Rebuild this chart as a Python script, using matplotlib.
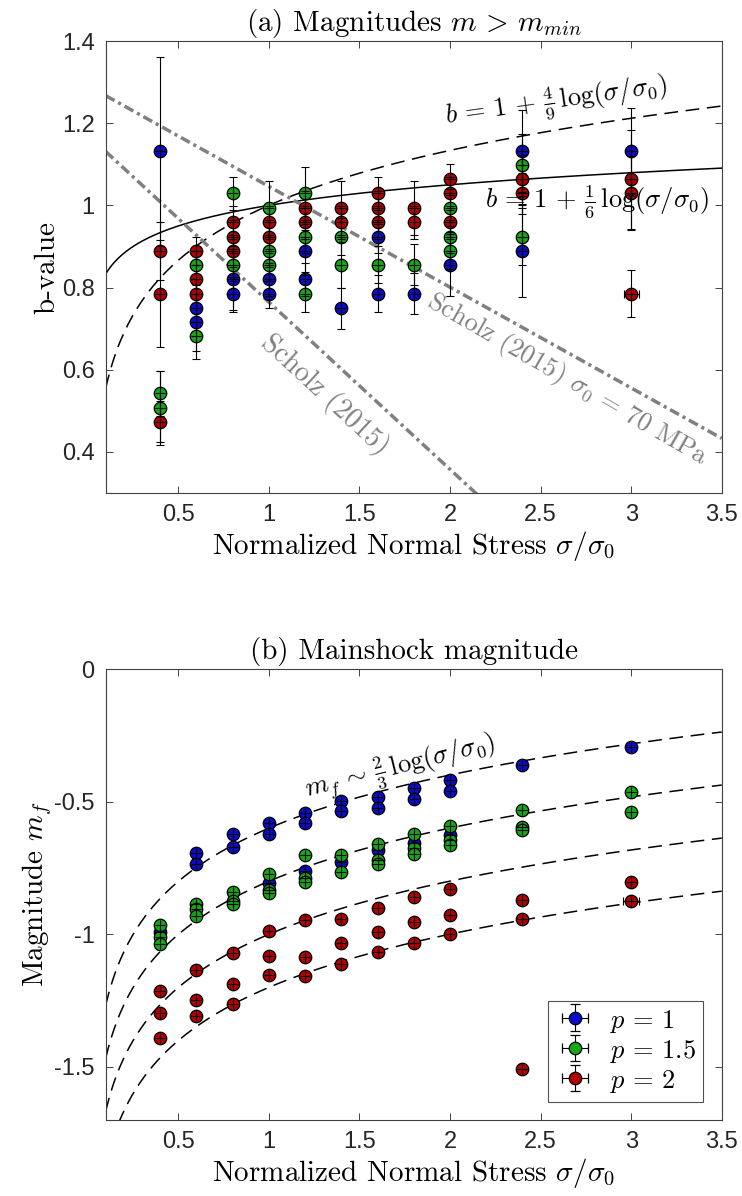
import numpy as np
import matplotlib
matplotlib.use("Agg")
import matplotlib.pyplot as plt
from matplotlib.ticker import FuncFormatter

plt.rcParams["font.family"] = "Liberation Sans"
plt.rcParams["mathtext.fontset"] = "cm"
plt.rcParams["axes.unicode_minus"] = False

# ---- panel (a): b-value vs normalized stress
sig_a_p1 = [0.4, 0.6, 0.6, 0.8, 0.8, 1.0, 1.0, 1.2, 1.2, 1.4, 1.6, 1.6, 1.8, 2.0, 2.4, 2.4, 3.0]
b_p1 = [1.132, 0.750, 0.716, 0.820, 0.785, 0.820, 0.785, 0.889, 0.820, 0.750, 0.924, 0.785,
        0.785, 0.855, 1.132, 0.889, 1.132]
berr_p1 = [0.23, 0.035, 0.09, 0.08, 0.04, 0.04, 0.035, 0.05, 0.04, 0.05, 0.04, 0.045,
           0.05, 0.075, 0.10, 0.113, 0.105]
sigerr_a_p1 = [0.028] * 17

sig_a_p15 = [0.4, 0.4, 0.6, 0.6, 0.8, 0.8, 1.0, 1.0, 1.0, 1.2, 1.2, 1.2, 1.4, 1.4, 1.6, 1.8,
             2.0, 2.0, 2.0, 2.4, 2.4]
b_p15 = [0.543, 0.508, 0.855, 0.681, 1.029, 0.855, 0.994, 0.889, 0.855, 1.029, 0.924, 0.785,
         0.924, 0.855, 0.855, 0.855, 0.994, 0.924, 0.889, 1.098, 0.924]
berr_p15 = [0.055, 0.09, 0.035, 0.035, 0.04, 0.04, 0.065, 0.04, 0.04, 0.065, 0.04, 0.045,
            0.045, 0.055, 0.045, 0.05, 0.045, 0.04, 0.045, 0.075, 0.07]
sigerr_a_p15 = [0.028] * 21

sig_a_p2 = [0.4, 0.4, 0.4, 0.6, 0.6, 0.6, 0.8, 0.8, 0.8, 1.0, 1.0, 1.2, 1.2, 1.4, 1.4,
            1.6, 1.6, 1.6, 1.8, 1.8, 2.0, 2.0, 2.0, 2.4, 2.4, 3.0, 3.0, 3.0]
b_p2 = [0.889, 0.785, 0.473, 0.889, 0.820, 0.785, 0.959, 0.924, 0.889, 0.959, 0.924, 0.994,
        0.959, 0.994, 0.959, 1.029, 0.994, 0.959, 0.994, 0.959, 1.063, 1.029, 0.959, 1.063,
        1.029, 1.063, 1.029, 0.785]
berr_p2 = [0.07, 0.13, 0.05, 0.035, 0.035, 0.035, 0.04, 0.04, 0.04, 0.04, 0.04, 0.04,
           0.04, 0.066, 0.04, 0.04, 0.04, 0.04, 0.066, 0.04, 0.037, 0.04, 0.04, 0.06,
           0.05, 0.12, 0.09, 0.057]
sigerr_a_p2 = [0.028] * 27 + [0.042]

# Scholz (2015) linear trends, end points
scholz_sig = [0.1, 3.5]
scholz_b = [1.131, -0.253]
scholz70_b = [1.267, 0.433]

# ---- panel (b): mainshock magnitude
sig_b_p1 = [0.4, 0.6, 0.6, 0.8, 0.8, 1.0, 1.0, 1.0, 1.2, 1.2, 1.2, 1.4, 1.4, 1.4,
            1.6, 1.6, 1.6, 1.8, 1.8, 1.8, 2.0, 2.0, 2.0, 2.4, 3.0]
m_p1 = [-0.99, -0.693, -0.733, -0.622, -0.672, -0.580, -0.623, -0.808, -0.542, -0.580,
        -0.760, -0.498, -0.534, -0.727, -0.484, -0.525, -0.682, -0.448, -0.491, -0.657,
        -0.419, -0.460, -0.626, -0.362, -0.295]
sigerr_b_p1 = [0.028] * 25

sig_b_p15 = [0.4, 0.4, 0.4, 0.6, 0.6, 0.6, 0.8, 0.8, 0.8, 1.0, 1.0, 1.0, 1.2, 1.2, 1.2,
             1.4, 1.4, 1.6, 1.6, 1.6, 1.8, 1.8, 1.8, 2.0, 2.0, 2.0, 2.4, 2.4, 2.4, 3.0, 3.0]
m_p15 = [-0.965, -1.01, -1.035, -0.884, -0.906, -0.931, -0.840, -0.874, -0.886,
         -0.774, -0.831, -0.843, -0.701, -0.789, -0.802, -0.701, -0.764,
         -0.660, -0.718, -0.735, -0.620, -0.676, -0.699, -0.592, -0.645, -0.664,
         -0.532, -0.595, -0.607, -0.465, -0.540]
sigerr_b_p15 = [0.028] * 31

sig_b_p2 = [0.4, 0.4, 0.4, 0.6, 0.6, 0.6, 0.8, 0.8, 0.8, 1.0, 1.0, 1.0, 1.2, 1.2, 1.2,
            1.4, 1.4, 1.4, 1.6, 1.6, 1.6, 1.8, 1.8, 1.8, 2.0, 2.0, 2.0, 2.4, 2.4, 2.4,
            3.0, 3.0]
m_p2 = [-1.214, -1.295, -1.389, -1.135, -1.246, -1.307, -1.072, -1.189, -1.261,
        -0.988, -1.082, -1.154, -0.946, -1.085, -1.156, -0.943, -1.034, -1.110,
        -0.899, -0.993, -1.066, -0.861, -0.955, -1.031, -0.830, -0.928, -1.000,
        -0.871, -0.944, -1.508, -0.804, -0.875]
sigerr_b_p2 = [0.028] * 31 + [0.046]
merr_b = 0.019

# offsets of the m_f ~ 2/3 log curves
mf_offsets = [-0.6, -0.8, -1.0, -1.2]

xticks = [0.5, 1, 1.5, 2, 2.5, 3, 3.5]
yticks_a = [0.4, 0.6, 0.8, 1, 1.2, 1.4]
yticks_b = [-1.5, -1, -0.5, 0]

colors = {"p1": "#0c0cc8", "p15": "#14a814", "p2": "#b40000"}
serif = "cmr10"
fs_tick = 17
fs = 21
fs_math = 19


def style_axes(ax, yticks):
    ax.set_xlim(0.1, 3.5)
    ax.set_xticks(xticks)
    ax.set_yticks(yticks)
    fmt = FuncFormatter(lambda v, pos: "%g" % v)
    ax.xaxis.set_major_formatter(fmt)
    ax.yaxis.set_major_formatter(fmt)
    ax.tick_params(direction="in", length=5, width=0.6, top=True, right=True,
                   labelsize=fs_tick, colors="#262626", pad=8)
    for sp in ax.spines.values():
        sp.set_color("#404040")
        sp.set_linewidth(0.8)
    ax.set_xlabel(r"Normalized Normal Stress $\sigma/\sigma_0$", fontfamily=serif,
                  fontsize=fs, labelpad=2)


def draw_points(ax, x, y, xe, ye, c, ycap):
    x = np.asarray(x)
    y = np.asarray(y)
    xe = np.asarray(xe)
    ye = np.broadcast_to(np.asarray(ye, dtype=float), x.shape)
    ax.plot(x, y, "o", color=c, mec="black", mew=0.9, ms=9, zorder=3)
    # vertical bars
    ax.errorbar(x, y, yerr=ye, fmt="none", ecolor="black", elinewidth=0.8,
                capsize=ycap, capthick=0.8, zorder=4)
    # horizontal bars, caps only where they reach outside the marker
    big = xe > 0.035
    ax.errorbar(x[~big], y[~big], xerr=xe[~big], fmt="none", ecolor="black",
                elinewidth=0.8, capsize=0, zorder=4)
    if big.any():
        ax.errorbar(x[big], y[big], xerr=xe[big], fmt="none", ecolor="black",
                    elinewidth=0.8, capsize=3, capthick=0.8, zorder=4)


fig = plt.figure(figsize=(7.42, 11.96), dpi=100)
ax1 = fig.add_axes([0.1425, 0.5878, 0.8302, 0.3779])
ax2 = fig.add_axes([0.1425, 0.0635, 0.8302, 0.3771])

# ---------------- panel (a)
s = np.linspace(0.1, 3.5, 300)
ax1.plot(s, 1 + np.log10(s) / 6, color="black", lw=1.1, zorder=2)
ax1.plot(s, 1 + 4 / 9 * np.log10(s), color="black", lw=1.1, ls=(0, (9, 5)), zorder=2)
gray = (0.5, 0.5, 0.5)
ax1.plot(scholz_sig, scholz_b, color=gray, lw=2.5, ls=(0, (2.9, 1.2, 0.9, 1.2)), zorder=2)
ax1.plot(scholz_sig, scholz70_b, color=gray, lw=2.5, ls=(0, (2.9, 1.2, 0.9, 1.2)), zorder=2)

draw_points(ax1, sig_a_p1, b_p1, sigerr_a_p1, berr_p1, colors["p1"], 2.6)
draw_points(ax1, sig_a_p15, b_p15, sigerr_a_p15, berr_p15, colors["p15"], 2.6)
draw_points(ax1, sig_a_p2, b_p2, sigerr_a_p2, berr_p2, colors["p2"], 2.6)

ax1.set_ylim(0.3, 1.4)
style_axes(ax1, yticks_a)
ax1.set_ylabel("b-value", fontfamily=serif, fontsize=fs, labelpad=1)
ax1.set_title(r"(a) Magnitudes $m\, >\, m_{min}$", fontfamily=serif, fontsize=fs, pad=7)

ax1.text(2.589, 1.252, r"$b\,=\,1\,+\,\frac{4}{9}\,\log(\sigma/\sigma_0)$", fontsize=fs_math,
         rotation=8, ha="center", va="center", rotation_mode="anchor")
ax1.text(2.81, 1.009, r"$b\,=\,1\,+\,\frac{1}{6}\,\log(\sigma/\sigma_0)$", fontsize=fs_math,
         ha="center", va="center")
ax1.text(1.31, 0.539, "Scholz (2015)", fontfamily=serif, fontsize=fs - 1, color=gray,
         rotation=-42.7, ha="center", va="center", rotation_mode="anchor")
ax1.text(2.65, 0.575, r"Scholz (2015) $\sigma_0\,=\,70$ MPa", fontfamily=serif,
         fontsize=fs - 2, color=gray, rotation=-30, ha="center", va="center",
         rotation_mode="anchor")

# ---------------- panel (b)
for off in mf_offsets:
    ax2.plot(s, off + 2 / 3 * np.log10(s), color="black", lw=1.1, ls=(0, (9, 5)), zorder=2)

draw_points(ax2, sig_b_p1, m_p1, sigerr_b_p1, merr_b, colors["p1"], 0)
draw_points(ax2, sig_b_p15, m_p15, sigerr_b_p15, merr_b, colors["p15"], 0)
draw_points(ax2, sig_b_p2, m_p2, sigerr_b_p2, merr_b, colors["p2"], 0)

ax2.set_ylim(-1.7, 0)
style_axes(ax2, yticks_b)
ax2.set_ylabel(r"Magnitude $m_f$", fontfamily=serif, fontsize=fs, labelpad=0)
ax2.set_title("(b) Mainshock magnitude", fontfamily=serif, fontsize=fs, pad=7)
ax2.text(1.724, -0.370, r"$m_f\,\sim\,\frac{2}{3}\,\log(\sigma/\sigma_0)$", fontsize=fs_math,
         rotation=14, ha="center", va="center", rotation_mode="anchor")

# legend proxies (error bars with caps)
handles = []
for key, lab in [("p1", r"$p\,=\,1$"), ("p15", r"$p\,=\,1.5$"), ("p2", r"$p\,=\,2$")]:
    h = ax2.errorbar([np.nan], [np.nan], xerr=[0.1], yerr=[0.1], fmt="o", color=colors[key],
                     mec="black", mew=0.9, ms=9, ecolor="black", elinewidth=0.8,
                     capsize=3.5, capthick=0.8, label=lab)
    handles.append(h)
leg = ax2.legend(handles=handles, loc="lower right", bbox_to_anchor=(0.9696, 0.0406),
                 fontsize=fs_math, frameon=True, fancybox=False, borderaxespad=0,
                 handlelength=1.5, handletextpad=0.6, labelspacing=0.12,
                 borderpad=0.25, handleheight=0.9)
leg.get_frame().set_edgecolor("#262626")
leg.get_frame().set_linewidth(0.8)

fig.savefig("out.png", dpi=100)
